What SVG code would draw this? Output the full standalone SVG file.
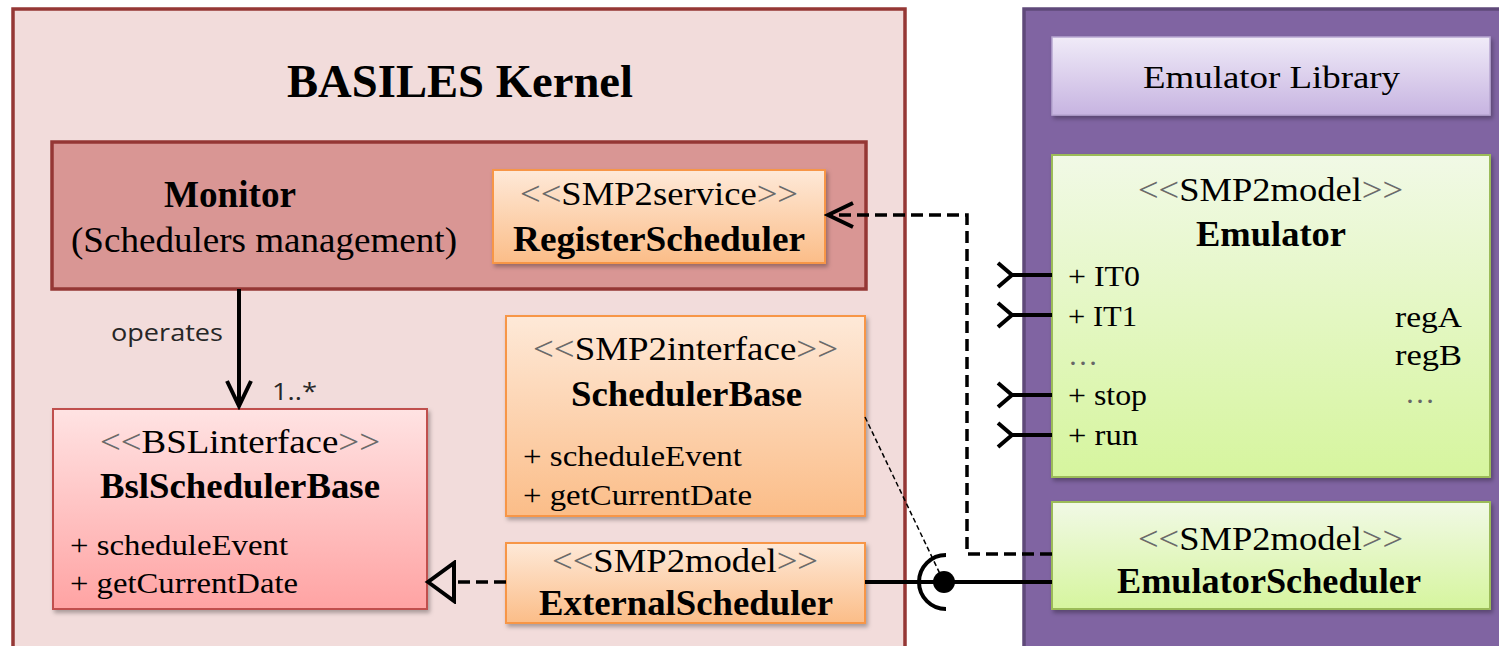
<svg xmlns="http://www.w3.org/2000/svg" width="1499" height="646" viewBox="0 0 1499 646">
  <style>
    .serif { font-family: "Liberation Serif", "Times New Roman", serif; fill: #000; }
    .title { font-size: 47px; font-weight: bold; }
    .cls { font-size: 36px; font-weight: bold; }
    .stereo { font-size: 33px; }
    .member { font-size: 30px; }
    .ang { fill: #6a6a6a; }
    .dots { fill: #666; }
    .sans { font-family: "Open Sans", "Liberation Sans", sans-serif; font-size: 24px; fill: #262626; }
    .kernel { fill: #f2dcdb; stroke: #953735; stroke-width: 3.5; }
    .monitor { fill: #d99694; stroke: #953735; stroke-width: 3.5; }
    .orange { fill: url(#gOrange); stroke: #f79646; stroke-width: 2; filter: url(#shadow); }
    .pink { fill: url(#gPink); stroke: #c0504d; stroke-width: 2; filter: url(#shadow); }
    .green { fill: url(#gGreen); stroke: #9bbb59; stroke-width: 2; filter: url(#shadow); }
    .lib { fill: #8064a2; stroke: #5f497a; stroke-width: 3.5; }
    .libhead { fill: url(#gLav); stroke: #b7a6d1; stroke-width: 1.5; filter: url(#shadow); }
    .solid { fill: none; stroke: #000; stroke-width: 4; }
    .dash { fill: none; stroke: #000; stroke-width: 3.5; stroke-dasharray: 12 6; }
    .thin { fill: none; stroke: #000; stroke-width: 1.5; stroke-dasharray: 5 3; }
  </style>
  <defs>
    <linearGradient id="gOrange" x1="0" y1="0" x2="0" y2="1">
      <stop offset="0" stop-color="#fee9d8"/>
      <stop offset="1" stop-color="#fbbd88"/>
    </linearGradient>
    <linearGradient id="gPink" x1="0" y1="0" x2="0" y2="1">
      <stop offset="0" stop-color="#ffe3e3"/>
      <stop offset="1" stop-color="#ffa3a3"/>
    </linearGradient>
    <linearGradient id="gGreen" x1="0" y1="0" x2="0" y2="1">
      <stop offset="0" stop-color="#f1f9e6"/>
      <stop offset="1" stop-color="#d6f59e"/>
    </linearGradient>
    <linearGradient id="gLav" x1="0" y1="0" x2="0" y2="1">
      <stop offset="0" stop-color="#f0ebf8"/>
      <stop offset="1" stop-color="#c7b4e1"/>
    </linearGradient>
    <filter id="shadow" x="-5%" y="-10%" width="115%" height="130%">
      <feDropShadow dx="2" dy="3" stdDeviation="2" flood-color="#000" flood-opacity="0.3"/>
    </filter>
    <!-- open V arrowhead for navigable association / dependency -->
    <marker id="openArrow" viewBox="-30 -16 34 32" refX="0" refY="0" markerWidth="34" markerHeight="32" markerUnits="userSpaceOnUse" orient="auto">
      <path d="M-25,-12 L0,0 L-25,12" fill="none" stroke="#000" stroke-width="4" stroke-linejoin="miter"/>
    </marker>
    <!-- hollow triangle for realization -->
    <marker id="hollowTri" viewBox="-30 -22 34 44" refX="0" refY="0" markerWidth="34" markerHeight="44" markerUnits="userSpaceOnUse" orient="auto">
      <path d="M0,0 L-26,-19 L-26,19 Z" fill="#f2dcdb" stroke="#000" stroke-width="4" stroke-linejoin="miter"/>
    </marker>
    <!-- required-interface port stub -->
    <path id="port" d="M-14,-12 L0,0 L-14,12 M0,0 H40" fill="none" stroke="#000" stroke-width="4"/>
  </defs>

  <rect width="1499" height="646" fill="#fff"/>

  <!-- BASILES kernel package -->
  <g id="kernel">
    <rect class="kernel" x="13" y="9" width="892" height="660"/>
    <text class="serif title" x="287" y="97" textLength="346" lengthAdjust="spacingAndGlyphs">BASILES Kernel</text>
  </g>

  <!-- emulator library package -->
  <g id="emulator-library">
    <rect class="lib" x="1024" y="9" width="500" height="660"/>
    <rect class="libhead" x="1052" y="37" width="438" height="78"/>
    <text class="serif" style="font-size:32px" x="1143" y="88" textLength="257" lengthAdjust="spacingAndGlyphs">Emulator Library</text>
  </g>

  <g id="monitor">
    <rect class="monitor" x="52" y="142" width="814" height="147"/>
    <text class="serif" style="font-size:37px;font-weight:bold" x="164" y="207" textLength="132" lengthAdjust="spacingAndGlyphs">Monitor</text>
    <text class="serif" style="font-size:35px" x="71" y="252" textLength="386" lengthAdjust="spacingAndGlyphs">(Schedulers management)</text>
  </g>

  <g id="register-scheduler">
    <rect class="orange" x="493" y="170" width="332" height="93"/>
    <text class="serif stereo" x="520" y="205" textLength="278" lengthAdjust="spacingAndGlyphs"><tspan class="ang">&lt;&lt;</tspan>SMP2service<tspan class="ang">&gt;&gt;</tspan></text>
    <text class="serif cls" x="513" y="251" textLength="292" lengthAdjust="spacingAndGlyphs">RegisterScheduler</text>
  </g>

  <g id="bsl-scheduler-base">
    <rect class="pink" x="53" y="409" width="374" height="200"/>
    <text class="serif stereo" x="100" y="453" textLength="280" lengthAdjust="spacingAndGlyphs"><tspan class="ang">&lt;&lt;</tspan>BSLinterface<tspan class="ang">&gt;&gt;</tspan></text>
    <text class="serif cls" x="100" y="498" textLength="280" lengthAdjust="spacingAndGlyphs">BslSchedulerBase</text>
    <text class="serif member" x="70" y="555" textLength="218" lengthAdjust="spacingAndGlyphs">+ scheduleEvent</text>
    <text class="serif member" x="70" y="593" textLength="228" lengthAdjust="spacingAndGlyphs">+ getCurrentDate</text>
  </g>

  <g id="scheduler-base">
    <rect class="orange" x="506" y="316" width="359" height="200"/>
    <text class="serif stereo" x="533" y="360" textLength="305" lengthAdjust="spacingAndGlyphs"><tspan class="ang">&lt;&lt;</tspan>SMP2interface<tspan class="ang">&gt;&gt;</tspan></text>
    <text class="serif cls" x="571" y="406" textLength="231" lengthAdjust="spacingAndGlyphs">SchedulerBase</text>
    <text class="serif member" x="523" y="466" textLength="219" lengthAdjust="spacingAndGlyphs">+ scheduleEvent</text>
    <text class="serif member" x="523" y="505" textLength="229" lengthAdjust="spacingAndGlyphs">+ getCurrentDate</text>
  </g>

  <g id="external-scheduler">
    <rect class="orange" x="506" y="543" width="359" height="80"/>
    <text class="serif stereo" x="552" y="572" textLength="266" lengthAdjust="spacingAndGlyphs"><tspan class="ang">&lt;&lt;</tspan>SMP2model<tspan class="ang">&gt;&gt;</tspan></text>
    <text class="serif cls" x="539" y="615" textLength="294" lengthAdjust="spacingAndGlyphs">ExternalScheduler</text>
  </g>

  <g id="emulator">
    <rect class="green" x="1052" y="155" width="438" height="322"/>
    <text class="serif stereo" x="1138" y="201" textLength="265" lengthAdjust="spacingAndGlyphs"><tspan class="ang">&lt;&lt;</tspan>SMP2model<tspan class="ang">&gt;&gt;</tspan></text>
    <text class="serif cls" x="1196" y="246" textLength="150" lengthAdjust="spacingAndGlyphs">Emulator</text>
    <text class="serif member" x="1068" y="286" textLength="72" lengthAdjust="spacingAndGlyphs">+ IT0</text>
    <text class="serif member" x="1068" y="326" textLength="69" lengthAdjust="spacingAndGlyphs">+ IT1</text>
    <text class="serif member dots" x="1068" y="365">…</text>
    <text class="serif member" x="1068" y="405" textLength="79" lengthAdjust="spacingAndGlyphs">+ stop</text>
    <text class="serif member" x="1068" y="445" textLength="70" lengthAdjust="spacingAndGlyphs">+ run</text>
    <text class="serif member" x="1395" y="327" textLength="67" lengthAdjust="spacingAndGlyphs">regA</text>
    <text class="serif member" x="1395" y="365" textLength="67" lengthAdjust="spacingAndGlyphs">regB</text>
    <text class="serif member dots" x="1405" y="403">…</text>
  </g>

  <g id="emulator-scheduler">
    <rect class="green" x="1052" y="502" width="438" height="107"/>
    <text class="serif stereo" x="1138" y="550" textLength="265" lengthAdjust="spacingAndGlyphs"><tspan class="ang">&lt;&lt;</tspan>SMP2model<tspan class="ang">&gt;&gt;</tspan></text>
    <text class="serif cls" x="1117" y="593" textLength="304" lengthAdjust="spacingAndGlyphs">EmulatorScheduler</text>
  </g>

  <g id="connectors">
    <!-- Monitor operates 1..* schedulers -->
    <path class="solid" d="M239,289 V406" marker-end="url(#openArrow)"/>
    <text class="sans" x="111" y="341" textLength="112" lengthAdjust="spacingAndGlyphs">operates</text>
    <text class="sans" x="272" y="400" textLength="45" lengthAdjust="spacingAndGlyphs">1..*</text>

    <!-- EmulatorScheduler registers through the service -->
    <path class="dash" d="M1052,554 H967 V215 H828" marker-end="url(#openArrow)"/>

    <!-- ExternalScheduler realizes BslSchedulerBase -->
    <path class="dash" d="M506,582 H428" marker-end="url(#hollowTri)"/>

    <!-- assembly between ExternalScheduler and EmulatorScheduler -->
    <path class="solid" d="M865,582 H1052"/>
    <path class="solid" d="M946,555 A27,27 0 0,0 946,609"/>
    <circle cx="944" cy="582" r="11" fill="#000"/>
    <path class="thin" d="M865,417 L942,578"/>

    <!-- required ports on the Emulator -->
    <use href="#port" x="1012" y="275"/>
    <use href="#port" x="1012" y="315"/>
    <use href="#port" x="1012" y="395"/>
    <use href="#port" x="1012" y="435"/>
  </g>
</svg>
